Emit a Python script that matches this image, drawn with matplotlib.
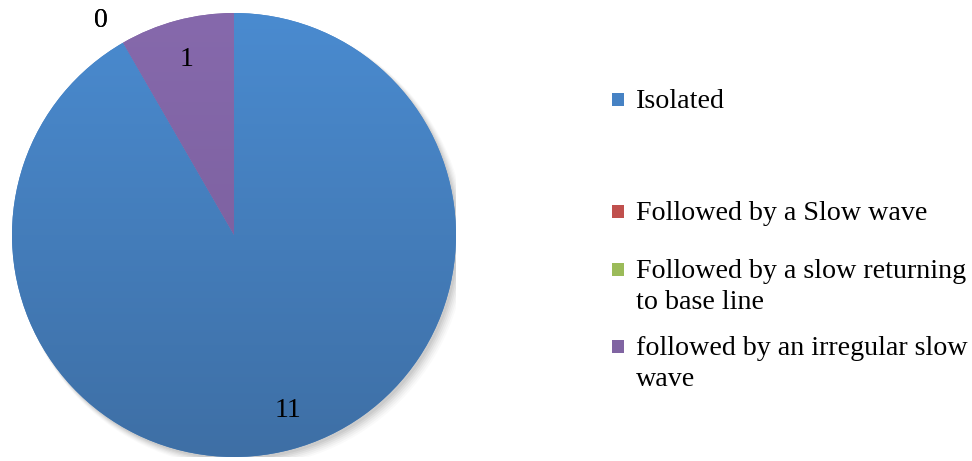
import textwrap
import numpy as np
import matplotlib
matplotlib.use("Agg")
import matplotlib.pyplot as plt
from matplotlib.patches import Rectangle, Circle
from matplotlib.colors import LinearSegmentedColormap

categories = ["Isolated", "Followed by a Slow wave",
              "Followed by a slow returning to base line",
              "followed by an irregular slow wave"]
values = [11, 0, 0, 1]
colors = ["#4682c4", "#c0504d", "#9bbb59", "#8064a2"]
grad_top = ["#4a8bd0", "#c9585a", "#a3c462", "#8669ac"]
grad_bot = ["#3e6fa5", "#a8443f", "#86a449", "#775c98"]

plt.rcParams['font.family'] = ['Liberation Serif', 'DejaVu Serif']

W, H = 972, 461
fig = plt.figure(figsize=(W / 100, H / 100), dpi=100)
fig.patch.set_facecolor("white")

cx, cy, r = 234, 235, 222
ax = fig.add_axes([(cx - r) / W, (H - cy - r) / H, 2 * r / W, 2 * r / H])

# soft shadow
for k, a in enumerate(np.linspace(0.05, 0.02, 6)):
    ax.add_patch(Circle((0.010 + 0.004 * k, -0.012 - 0.004 * k), 1.0 + 0.003 * k,
                        facecolor="black", alpha=a, edgecolor="none", zorder=0))

wedges, _ = ax.pie(values, colors=colors, startangle=90, counterclock=False,
                   radius=1.0, wedgeprops=dict(linewidth=0, edgecolor="none"))
ax.set_xlim(-1, 1)
ax.set_ylim(-1, 1)
ax.set_aspect("equal")
ax.axis("off")

for w, t, b in zip(wedges, grad_top, grad_bot):
    if w.theta2 - w.theta1 <= 0:
        continue
    cmap = LinearSegmentedColormap.from_list("g", [b, t])
    grad = np.linspace(0, 1, 256).reshape(-1, 1)
    im = ax.imshow(grad, cmap=cmap, extent=[-1, 1, -1, 1], origin="lower",
                   aspect="auto", zorder=2)
    im.set_clip_path(w)

for w, v in zip(wedges, values):
    mid = np.deg2rad((w.theta1 + w.theta2) / 2)
    if v > 0:
        x, y = 0.82 * np.cos(mid), 0.82 * np.sin(mid)
        x += 0.03 if y < 0 else 0.0
    else:
        x, y = 1.14 * np.cos(mid) - 0.03, 1.14 * np.sin(mid) - 0.02
    ax.text(x, y, str(v), ha="center", va="center",
            fontsize=20, color="black", zorder=5, clip_on=False)

# legend drawn manually
entry_y = [101, 213, 271, 348]
line_h = 31
for cat, col, y in zip(categories, colors, entry_y):
    fig.patches.append(Rectangle((612 / W, (H - y - 5) / H), 12 / W, 13 / H,
                                 transform=fig.transFigure, facecolor=col,
                                 edgecolor="none"))
    lines = textwrap.wrap(cat, width=29)
    for i, ln in enumerate(lines):
        fig.text(636 / W, (H - y - i * line_h) / H, ln, ha="left", va="center",
                 fontsize=20.2, color="black")

fig.savefig("out.png", dpi=100, facecolor="white")
